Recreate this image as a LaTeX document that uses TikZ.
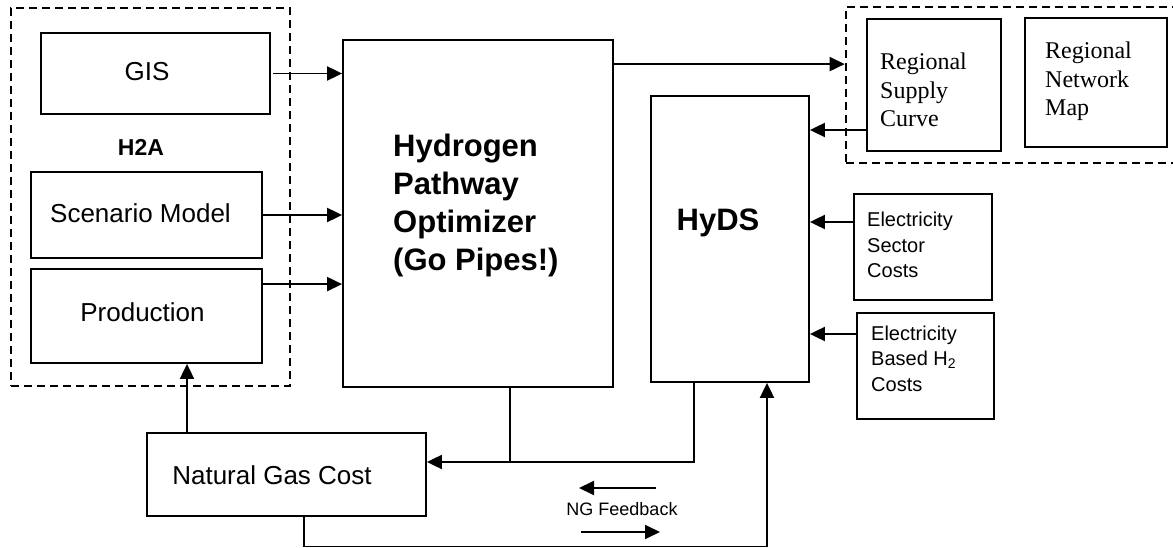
\documentclass[tikz,border=0pt]{standalone}
\usepackage{fontspec}
\setmainfont{Liberation Sans}
\newfontfamily\serifface{Liberation Serif}
\usetikzlibrary{arrows.meta,calc}
\tikzset{
  box/.style={draw, line width=1.8pt, rectangle, inner sep=0pt},
  dbox/.style={draw, line width=2.6pt, rectangle, inner sep=0pt, dash pattern=on 8pt off 5pt},
  arr/.style={line width=1.9pt, -{Triangle[length=15pt,width=14pt]}},
  conn/.style={line width=1.9pt},
  lbl/.style={inner sep=0pt, font=\fontsize{26}{30}\selectfont},
  bigl/.style={inner sep=0pt, align=left, font=\fontsize{31}{38}\selectfont\bfseries},
  serl/.style={inner sep=0pt, align=left, font=\serifface\fontsize{24}{28.5}\selectfont},
  smal/.style={inner sep=0pt, align=left, font=\fontsize{20}{25.5}\selectfont},
}
\begin{document}
\begin{tikzpicture}[x=1pt,y=-1pt]
\useasboundingbox (0,0) rectangle (1173,548);
% H2A group
\node[dbox, minimum width=279pt, minimum height=378pt] (h2abox) at (150.5,197) {};
\node[box, minimum width=229pt, minimum height=81pt] (gis) at (155.5,73.5) {};
\node[lbl] (gist) at (147,72) {GIS};
\node[inner sep=0pt, font=\fontsize{23}{27}\selectfont\bfseries] (h2a) at (141,147) {H2A};
\node[box, minimum width=231pt, minimum height=86pt] (scen) at (146.5,215) {};
\node[lbl] (scent) at (140.5,213) {Scenario Model};
\node[box, minimum width=231pt, minimum height=94pt] (prod) at (146.5,316) {};
\node[lbl] (prodt) at (142.5,312) {Production};
% optimizer
\node[box, minimum width=270pt, minimum height=347pt] (hpo) at (478,213.5) {};
\node[bigl, anchor=west] (hpot) at (393,205) {Hydrogen\\Pathway\\Optimizer\\(Go Pipes!)};
% HyDS
\node[box, minimum width=158pt, minimum height=286pt] (hyds) at (730,239) {};
\node[inner sep=0pt, font=\fontsize{31}{38}\selectfont\bfseries] (hydst) at (718,223) {HyDS};
% regional group
\node[dbox, minimum width=336pt, minimum height=156pt] (rdash) at (1014,85) {};
\node[box, minimum width=134pt, minimum height=132pt] (rsc) at (934,85) {};
\node[serl, anchor=west] (rsct) at (880,90) {Regional\\Supply\\Curve};
\node[box, minimum width=142pt, minimum height=129pt] (rnm) at (1096,82.5) {};
\node[serl, anchor=west] (rnmt) at (1045,81.5) {Regional\\Network\\Map};
% electricity boxes
\node[box, minimum width=138pt, minimum height=106pt] (esc) at (923,247) {};
\node[smal, anchor=west] (esct) at (867,245) {Electricity\\Sector\\Costs};
\node[box, minimum width=137pt, minimum height=106pt] (ebh) at (925.5,366) {};
\node[smal, anchor=west] (ebht) at (871,358.5) {Electricity\\Based H\textsubscript{2}\\Costs};
% natural gas
\node[box, minimum width=279pt, minimum height=83pt] (ngc) at (286.5,474.5) {};
\node[lbl] (ngct) at (272,475) {Natural Gas Cost};
% connectors
\draw[arr] ([xshift=2pt]gis.east) -- (gis.east -| hpo.west);
\draw[arr] (scen.east) -- (scen.east -| hpo.west);
\draw[arr] ([yshift=-16pt]prod.north east) -- ([yshift=-16pt]prod.north east -| hpo.west);
\draw[arr] ([yshift=-25pt]hpo.north east) -- ([yshift=-25pt]hpo.north east -| rdash.west);
\draw[arr] ([yshift=-45pt]rsc.west) -- ([yshift=-45pt]rsc.west -| hyds.east);
\draw[arr] ([yshift=25pt]esc.west) -- ([yshift=25pt]esc.west -| hyds.east);
\draw[arr] ([yshift=32pt]ebh.west) -- ([yshift=32pt]ebh.west -| hyds.east);
\draw[arr] ([xshift=-99.5pt]ngc.north) -- ([xshift=-99.5pt]ngc.north |- prod.south);
\coordinate (fbc) at (694,462);
\draw[arr] ([xshift=-36pt]hyds.south) -- (fbc) -- (fbc -| ngc.east);
\draw[conn] ([xshift=32pt]hpo.south) -- ([xshift=32pt]hpo.south |- fbc);
\coordinate (botc) at (304,546.5);
\draw[arr] ([xshift=17.5pt]ngc.south) -- (botc) -| ([xshift=37pt]hyds.south);
% NG feedback legend
\coordinate (la1) at (656,488);
\coordinate (la2) at (579,488);
\coordinate (ra1) at (581,532);
\coordinate (ra2) at (660,532);
\draw[arr] (la1) -- (la2);
\draw[arr] (ra1) -- (ra2);
\node[inner sep=0pt, font=\fontsize{18}{22}\selectfont] (ngfb) at (622,509) {NG Feedback};
\end{tikzpicture}
\end{document}
